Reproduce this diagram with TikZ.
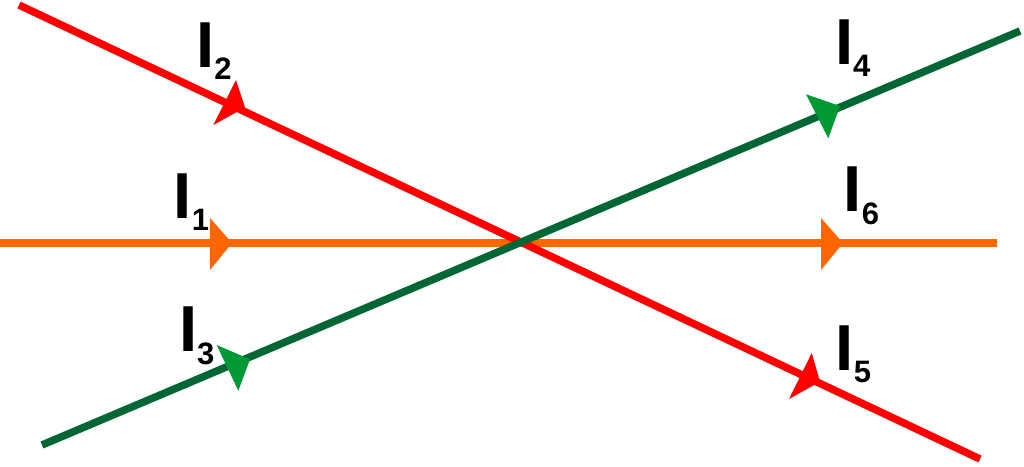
\documentclass[tikz,border=0pt]{standalone}
\usepackage{fontspec}
\setmainfont{Liberation Sans}
\definecolor{cred}{HTML}{FF0000}
\definecolor{corange}{HTML}{FF6600}
\definecolor{cgreenline}{HTML}{006633}
\definecolor{cgreenhead}{HTML}{009933}
\newcommand\labsub[1]{\raisebox{-12.5pt}{\fontsize{31}{31}\selectfont\bfseries #1}}
\tikzset{
  wire/.style={line width=7.5pt, line cap=butt},
  lab/.style={inner sep=0pt, anchor=base west, font=\fontsize{65}{65}\selectfont\bfseries},
}
\begin{document}
\begin{tikzpicture}[x=1pt, y=-1pt]
\useasboundingbox (0,0) rectangle (1024,466);
% end points
\coordinate (o1) at (0,243);
\coordinate (o2) at (997,243);
\coordinate (r1) at (19,5);
\coordinate (r2) at (980,459);
\coordinate (g1) at (42,445);
\coordinate (g2) at (1020,31);
% lines
\draw[wire, corange] (o1) -- (o2);
\draw[wire, cred] (r1) -- (r2);
\draw[wire, cgreenline] (g1) -- (g2);
% arrowheads
\fill[corange] (210,218) -- (232,243) -- (210,270) -- cycle;
\fill[corange] (821,218) -- (843,243) -- (821,270) -- cycle;
\fill[cred] (236,80) -- (245,107.5) -- (213.3,125) -- cycle;
\fill[cred] (811.7,353) -- (820,381.7) -- (789,399) -- cycle;
\fill[cgreenhead] (216.7,345) -- (250,359.3) -- (238.3,390.7) -- cycle;
\fill[cgreenhead] (806,94.3) -- (840,106) -- (828.3,138.3) -- cycle;
% labels
\node[lab] (l2) at (196.2,67) {I\labsub{2}};
\node[lab] (l4) at (834.8,64) {I\labsub{4}};
\node[lab] (l1) at (173.5,218) {I\labsub{1}};
\node[lab] (l6) at (843.5,211.7) {I\labsub{6}};
\node[lab] (l3) at (178.8,351.7) {I\labsub{3}};
\node[lab] (l5) at (835.5,370) {I\labsub{5}};
\end{tikzpicture}
\end{document}
